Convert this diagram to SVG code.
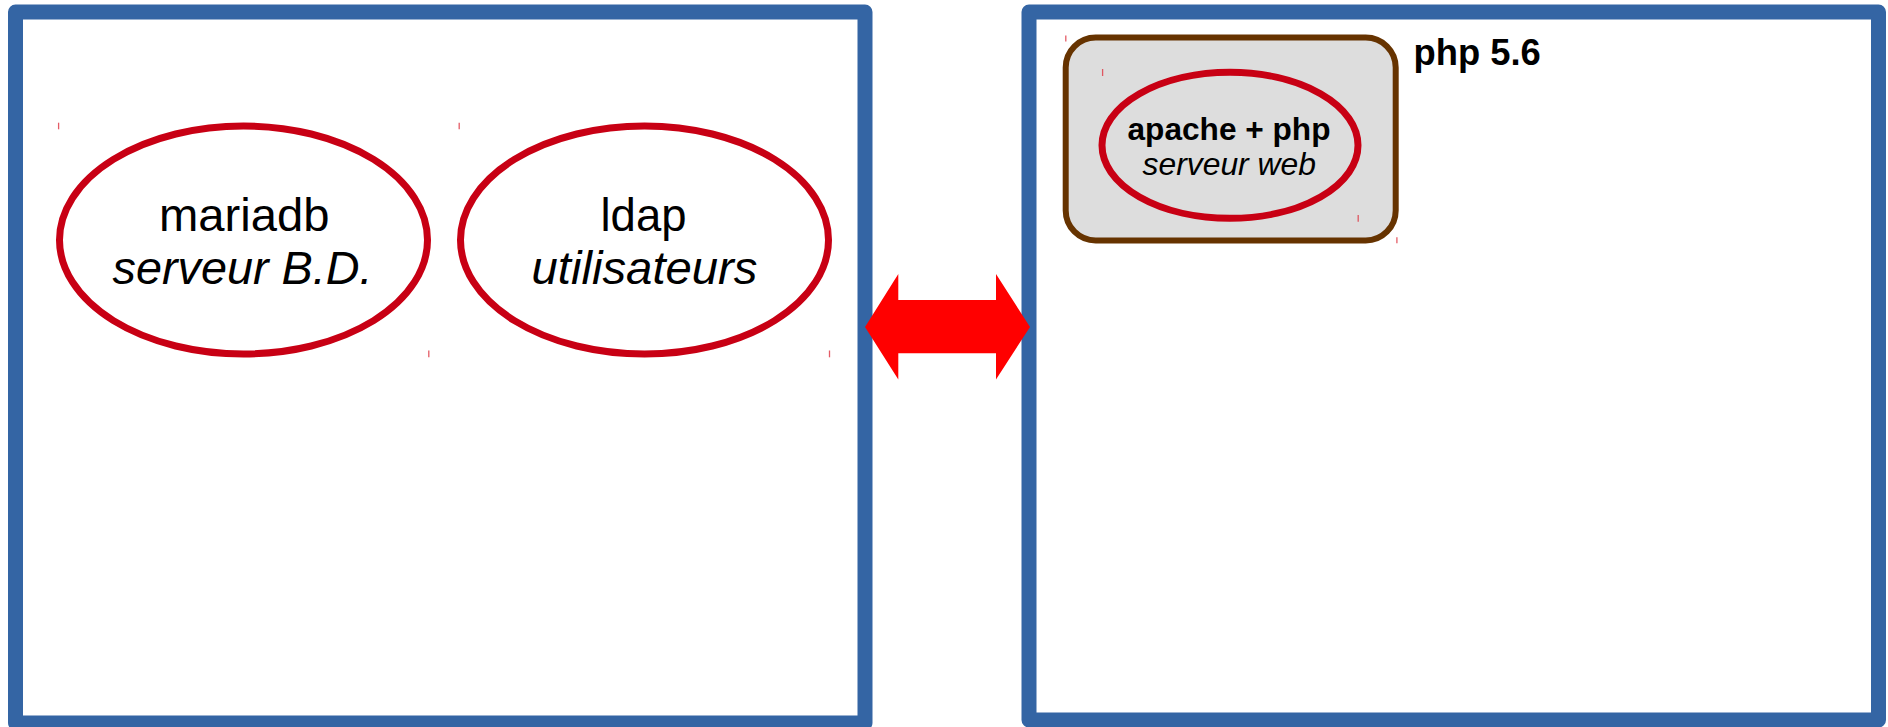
<svg xmlns="http://www.w3.org/2000/svg" width="1888" height="727" viewBox="0 0 1888 727">
<style>
.box{fill:#ffffff;stroke:#3465a4;stroke-width:15;stroke-linejoin:round}
.ell{fill:#ffffff;stroke:#c80014;stroke-width:7}
.ell2{fill:#dddddd;stroke:#c80014;stroke-width:7}
.rr{fill:#dddddd;stroke:#663300;stroke-width:6}
.t{font-family:"Liberation Sans",Arial,sans-serif;fill:#000000}
.big{font-size:47px}
.small{font-size:31.5px}
.b{font-weight:bold}
.i{font-style:italic}
.tick{stroke:#e0404c;stroke-width:1.3;opacity:0.85}
.arrow{fill:#ff0000;stroke:none}
</style>
<rect width="1888" height="727" fill="#ffffff"/>
<g id="left-box">
<rect class="box" x="15.5" y="12" width="849.5" height="711"/>
</g>
<g id="right-box">
<rect class="box" x="1029" y="12" width="849.5" height="708"/>
</g>
<g id="mariadb">
<ellipse class="ell" cx="243.5" cy="240" rx="184" ry="114"/>
<text class="t big" x="159" y="230.5" textLength="170.5" lengthAdjust="spacingAndGlyphs">mariadb</text>
<text class="t big i" x="112.5" y="284" textLength="260" lengthAdjust="spacingAndGlyphs">serveur B.D.</text>
<line class="tick" x1="58.6" y1="122.7" x2="58.6" y2="129.3"/>
<line class="tick" x1="428.8" y1="350.5" x2="428.8" y2="357.3"/>
</g>
<g id="ldap">
<ellipse class="ell" cx="644.5" cy="240" rx="184" ry="114"/>
<text class="t big" x="600.5" y="230.5" textLength="86" lengthAdjust="spacingAndGlyphs">ldap</text>
<text class="t big i" x="531.5" y="284" textLength="226" lengthAdjust="spacingAndGlyphs">utilisateurs</text>
<line class="tick" x1="459.2" y1="122.7" x2="459.2" y2="129.3"/>
<line class="tick" x1="829.5" y1="350.5" x2="829.5" y2="357.3"/>
</g>
<g id="php-container">
<rect class="rr" x="1065.7" y="37.5" width="330" height="203" rx="30" ry="30"/>
<line class="tick" x1="1065.8" y1="35.5" x2="1065.8" y2="41.5"/>
<line class="tick" x1="1396.9" y1="237.3" x2="1396.9" y2="243.3"/>
</g>
<g id="php-label">
<text class="t b" style="font-size:36px" x="1413.5" y="64.5" textLength="127.3" lengthAdjust="spacingAndGlyphs">php 5.6</text>
</g>
<g id="apache">
<ellipse class="ell2" cx="1230" cy="145.3" rx="128" ry="73"/>
<text class="t small b" x="1127.5" y="139.5" textLength="203" lengthAdjust="spacingAndGlyphs">apache + php</text>
<text class="t small i" x="1142.5" y="174.5" textLength="173.5" lengthAdjust="spacingAndGlyphs">serveur web</text>
<line class="tick" x1="1102.6" y1="69" x2="1102.6" y2="76"/>
<line class="tick" x1="1358.2" y1="215" x2="1358.2" y2="221.7"/>
</g>
<g id="connectors">
<polygon class="arrow" points="865,327 898.3,274 898.3,300 996,300 996,274 1030,327 996,379.5 996,353.3 898.3,353.3 898.3,379.5"/>
</g>
</svg>
